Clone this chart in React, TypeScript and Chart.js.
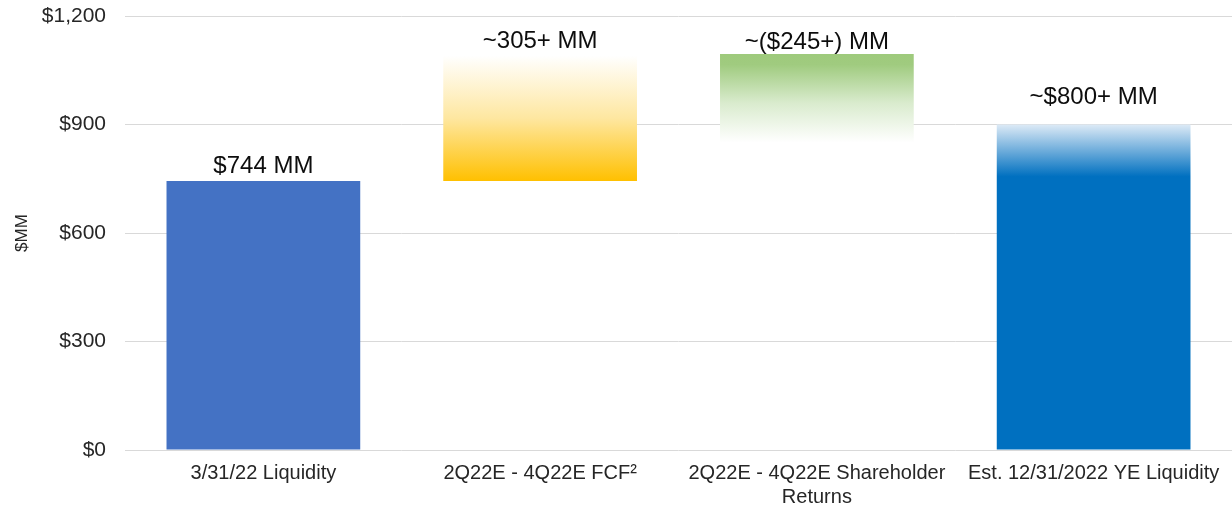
import React, { useEffect, useRef } from "react";
import { Chart, registerables } from "chart.js";

Chart.register(...registerables);

const categories: (string | string[])[] = [
  "3/31/22 Liquidity",
  "2Q22E - 4Q22E FCF²",
  ["2Q22E - 4Q22E Shareholder", "Returns"],
  "Est. 12/31/2022 YE Liquidity",
];
const barStarts = [0, 744, 850, 0];
const barEnds = [744, 1090, 1095, 900];
const valueLabels = ["$744 MM", "~305+ MM", "~($245+) MM", "~$800+ MM"];
const yTicks = [0, 300, 600, 900, 1200];

const FONT = "'Liberation Sans', Arial, sans-serif";
const labelLift = [8, 8, 5, 21];

function makeFill(chart: any, i: number) {
  const area = chart.chartArea;
  const solid = ["#4472C4", "#FFC000", "#9ECA7C", "#0070C0"][i];
  if (!area) return solid;
  const y = chart.scales.y;
  const top = y.getPixelForValue(barEnds[i]);
  const bot = y.getPixelForValue(barStarts[i]);
  const ctx = chart.ctx;
  const g = ctx.createLinearGradient(0, top, 0, bot);
  if (i === 0) return solid;
  if (i === 1) {
    g.addColorStop(0, "#FFFFFF");
    g.addColorStop(0.5, "#FEE7A0");
    g.addColorStop(1, "#FFC000");
  } else if (i === 2) {
    g.addColorStop(0, "#9ECA7C");
    g.addColorStop(0.12, "#A0CB7F");
    g.addColorStop(0.55, "#D9EBCD");
    g.addColorStop(1, "#FFFFFF");
  } else {
    g.addColorStop(0, "#DDEAF6");
    g.addColorStop(0.16, "#0070C0");
    g.addColorStop(1, "#0070C0");
  }
  return g;
}

const labelPlugin = {
  id: "valueLabels",
  afterDatasetsDraw(chart: any) {
    const meta = chart.getDatasetMeta(0);
    const ctx = chart.ctx;
    ctx.save();
    ctx.font = `24px ${FONT}`;
    ctx.fillStyle = "#0D0D0D";
    ctx.textAlign = "center";
    ctx.textBaseline = "alphabetic";
    meta.data.forEach((el: any, i: number) => {
      const topY = Math.min(el.y, el.base);
      ctx.fillText(valueLabels[i], el.x, topY - labelLift[i]);
    });
    ctx.restore();
  },
};

export default function App() {
  const ref = useRef<HTMLCanvasElement | null>(null);
  useEffect(() => {
    document.body.style.margin = "0";
    if (!ref.current) return;
    const chart = new Chart(ref.current, {
      type: "bar",
      data: {
        labels: categories,
        datasets: [
          {
            data: barStarts.map((s, i) => [s, barEnds[i]]),
            backgroundColor: (c: any) => makeFill(c.chart, c.dataIndex),
            borderWidth: 0,
            barPercentage: 0.7,
            categoryPercentage: 1,
          },
        ],
      },
      options: {
        animation: false,
        responsive: false,
        maintainAspectRatio: false,
        layout: { padding: { top: 16, right: 0, bottom: 0, left: 0 } },
        plugins: { legend: { display: false }, tooltip: { enabled: false } },
        scales: {
          x: {
            grid: { display: false, drawTicks: false },
            border: { display: false },
            ticks: {
              autoSkip: false,
              maxRotation: 0,
              padding: 11,
              color: "#262626",
              font: { family: FONT, size: 20 },
            },
            afterFit: (s: any) => {
              s.height = 63;
            },
          },
          y: {
            min: 0,
            max: 1200,
            afterBuildTicks: (s: any) => {
              s.ticks = yTicks.map((v) => ({ value: v }));
            },
            grid: { color: "#D9D9D9", lineWidth: 1, drawTicks: false },
            border: { display: false },
            ticks: {
              padding: 19,
              color: "#262626",
              font: { family: FONT, size: 21 },
              callback: (v: any) => "$" + Number(v).toLocaleString("en-US"),
            },
            title: {
              display: true,
              text: "$MM",
              color: "#262626",
              font: { family: FONT, size: 17 },
              padding: { top: 12, bottom: 0 },
            },
            afterFit: (s: any) => {
              s.width = 125;
              s.paddingTop = 0;
              s.paddingBottom = 0;
            },
          },
        },
      },
      plugins: [labelPlugin],
    });
    return () => chart.destroy();
  }, []);
  return (
    <div style={{ width: 1232, height: 513 }}>
      <canvas ref={ref} width={1232} height={513} style={{ display: "block" }} />
    </div>
  );
}
